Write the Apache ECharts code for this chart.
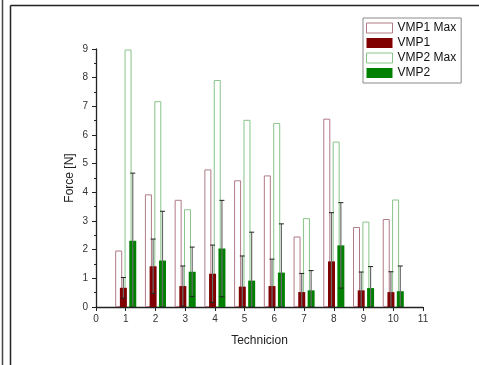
<!DOCTYPE html>
<html>
<head>
<meta charset="utf-8">
<script src="https://cdn.jsdelivr.net/npm/echarts@6/dist/echarts.min.js"></script>
<style>html,body{margin:0;padding:0;background:#fff;}#c{width:479px;height:365px;}</style>
</head>
<body>
<div id="c"></div>
<script>
var technicians = [1, 2, 3, 4, 5, 6, 7, 8, 9, 10];
var vmp1Max = [1.97, 3.93, 3.74, 4.80, 4.42, 4.59, 2.46, 6.57, 2.79, 3.07];
var vmp1 = [0.67, 1.42, 0.73, 1.16, 0.71, 0.73, 0.52, 1.59, 0.58, 0.52];
var vmp1Err = [0.36, 0.95, 0.70, 1.00, 1.07, 0.94, 0.65, 1.70, 0.64, 0.71];
var vmp2Max = [8.98, 7.18, 3.41, 7.92, 6.53, 6.42, 3.10, 5.77, 2.98, 3.75];
var vmp2 = [2.31, 1.62, 1.23, 2.04, 0.92, 1.20, 0.58, 2.15, 0.66, 0.55];
var vmp2Err = [2.36, 1.72, 0.86, 1.68, 1.69, 1.70, 0.69, 1.49, 0.75, 0.88];
var xTicks = [0, 1, 2, 3, 4, 5, 6, 7, 8, 9, 10, 11];

var BAR_W = 7, GAP = -0.33;
var step = BAR_W * (1 + GAP);
var total = 4 * BAR_W + 3 * BAR_W * GAP;
function offsetOf(i) { return -total / 2 + BAR_W / 2 + i * step; }

function pairs(vals) { return technicians.map(function (t, i) { return [t, vals[i]]; }); }
function errData(mean, err) {
  return technicians.map(function (t, i) { return [t, Math.max(0, mean[i] - err[i]), mean[i] + err[i]]; });
}
function errSeries(name, mean, err, idx) {
  return {
    type: 'custom', name: name + ' err', z: 5, silent: true,
    data: errData(mean, err),
    encode: { x: 0, y: [1, 2] },
    renderItem: function (params, api) {
      var x = api.value(0);
      var lo = api.coord([x, api.value(1)]);
      var hi = api.coord([x, api.value(2)]);
      var cx = lo[0] + offsetOf(idx);
      var cap = 2.5;
      return {
        type: 'group',
        children: [
          { type: 'line', shape: { x1: cx, y1: lo[1], x2: cx, y2: hi[1] }, style: { stroke: '#6a6a6a', lineWidth: 1.2 } },
          { type: 'line', shape: { x1: cx - cap, y1: hi[1], x2: cx + cap, y2: hi[1] }, style: { stroke: '#222', lineWidth: 1 } },
          { type: 'line', shape: { x1: cx - cap, y1: lo[1], x2: cx + cap, y2: lo[1] }, style: { stroke: '#222', lineWidth: 1 } }
        ]
      };
    }
  };
}

var chart = echarts.init(document.getElementById('c'), null, { renderer: 'canvas' });
var font = 'Liberation Sans, Arial, sans-serif';
chart.setOption({
  animation: false,
  backgroundColor: '#fff',
  textStyle: { fontFamily: font },
  grid: { left: 96, right: 56, top: 49, bottom: 58 },
  legend: {
    orient: 'vertical', left: 363, top: 18,
    backgroundColor: '#fff', borderColor: '#8a8a8a', borderWidth: 1,
    padding: [4, 5, 4, 3], itemGap: 3, itemWidth: 26, itemHeight: 10,
    textStyle: { fontSize: 12, color: '#111', fontFamily: font },
    data: [
      { name: 'VMP1 Max', icon: 'rect', itemStyle: { color: '#fff', borderColor: '#b07a86', borderWidth: 1 } },
      { name: 'VMP1', icon: 'rect', itemStyle: { color: '#800000' } },
      { name: 'VMP2 Max', icon: 'rect', itemStyle: { color: '#fff', borderColor: '#88c488', borderWidth: 1 } },
      { name: 'VMP2', icon: 'rect', itemStyle: { color: '#008000' } }
    ]
  },
  xAxis: {
    type: 'value', min: xTicks[0], max: xTicks[xTicks.length - 1], interval: 1,
    name: 'Technicion', nameLocation: 'middle', nameGap: 28,
    nameTextStyle: { fontSize: 12, color: '#222', fontFamily: font },
    axisLine: { show: true, lineStyle: { color: '#222', width: 1.3 } },
    axisTick: { show: true, length: 4, lineStyle: { color: '#222' } },
    axisLabel: { fontSize: 10, color: '#333', margin: 7 },
    splitLine: { show: false }
  },
  yAxis: {
    type: 'value', min: 0, max: 9, interval: 1,
    name: 'Force [N]', nameLocation: 'middle', nameGap: 20, nameMoveOverlap: false,
    nameTextStyle: { fontSize: 12, color: '#222', fontFamily: font },
    axisLine: { show: true, lineStyle: { color: '#222', width: 1.3 } },
    axisTick: { show: true, length: 4, lineStyle: { color: '#222' } },
    minorTick: { show: true, splitNumber: 2, length: 2, lineStyle: { color: '#222' } },
    axisLabel: { fontSize: 10, color: '#333', margin: 8 },
    splitLine: { show: false }
  },
  series: [
    { type: 'bar', name: 'VMP1 Max', data: pairs(vmp1Max), barWidth: BAR_W, barGap: (GAP * 100) + '%', z: 1,
      itemStyle: { color: 'rgba(255,255,255,0)', borderColor: '#b07a86', borderWidth: 1 } },
    { type: 'bar', name: 'VMP1', data: pairs(vmp1), barWidth: BAR_W, barGap: (GAP * 100) + '%', z: 3,
      itemStyle: { color: '#800000' } },
    { type: 'bar', name: 'VMP2 Max', data: pairs(vmp2Max), barWidth: BAR_W, barGap: (GAP * 100) + '%', z: 1,
      itemStyle: { color: 'rgba(255,255,255,0)', borderColor: '#88c488', borderWidth: 1 } },
    { type: 'bar', name: 'VMP2', data: pairs(vmp2), barWidth: BAR_W, barGap: (GAP * 100) + '%', z: 3,
      itemStyle: { color: '#008000' } },
    errSeries('VMP1', vmp1, vmp1Err, 1),
    errSeries('VMP2', vmp2, vmp2Err, 3)
  ],
  graphic: [
    { type: 'line', shape: { x1: 2.5, y1: 0, x2: 2.5, y2: 365 }, style: { stroke: '#444', lineWidth: 1.5 } },
    { type: 'line', shape: { x1: 10.5, y1: 5.5, x2: 10.5, y2: 365 }, style: { stroke: '#222', lineWidth: 1.5 } },
    { type: 'line', shape: { x1: 10.5, y1: 5.5, x2: 479, y2: 5.5 }, style: { stroke: '#222', lineWidth: 1.5 } }
  ]
});
</script>
</body>
</html>
